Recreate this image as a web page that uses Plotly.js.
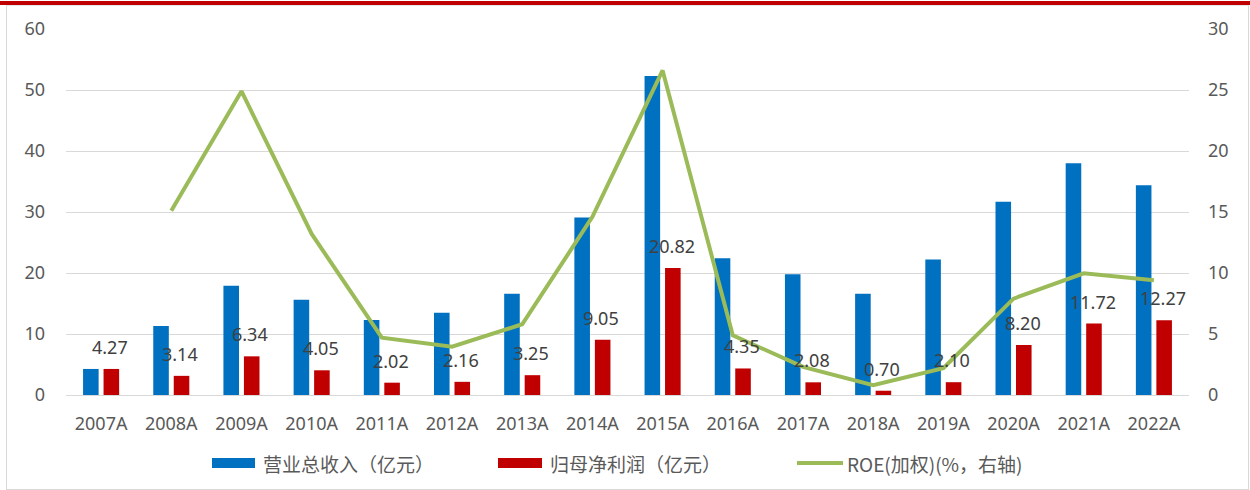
<!DOCTYPE html>
<html>
<head>
<meta charset="utf-8">
<script src="https://cdn.plot.ly/plotly-3.0.1.min.js"></script>
<style>
  html, body { margin: 0; padding: 0; background: #fff; }
  #wrap { position: relative; width: 1250px; height: 490px; }
  #chart { width: 1250px; height: 490px; }
  #topbar { position: absolute; left: 0; top: 1px; width: 1250px; height: 4px; background: #C00000; pointer-events: none; }
  #frame { position: absolute; left: 6px; top: 5px; width: 1241px; height: 483px; border: 1px solid #D9D9D9; border-top-color: #E6E6E6; pointer-events: none; }
</style>
</head>
<body>
<div id="wrap">
  <div id="chart"></div>
  <div id="frame"></div>
  <div id="topbar"></div>
</div>
<script>
const categories = ["2007A","2008A","2009A","2010A","2011A","2012A","2013A","2014A","2015A","2016A","2017A","2018A","2019A","2020A","2021A","2022A"];
const revenue = [4.27, 11.3, 17.9, 15.6, 12.3, 13.5, 16.6, 29.1, 52.3, 22.4, 19.8, 16.6, 22.2, 31.7, 38.0, 34.4];
const netProfit = [4.27, 3.14, 6.34, 4.05, 2.02, 2.16, 3.25, 9.05, 20.82, 4.35, 2.08, 0.70, 2.10, 8.20, 11.72, 12.27];
const roe = [null, 15.1, 24.9, 13.2, 4.7, 3.96, 5.8, 14.6, 26.6, 4.9, 2.3, 0.8, 2.2, 7.9, 9.97, 9.4];
const seriesNames = ["营业总收入（亿元）", "归母净利润（亿元）", "ROE(加权)(%，右轴)"];
const colors = ["#0070C0", "#C00000", "#9BBB59"];

const W = 1250, H = 490;
const M = {l: 66, r: 61, t: 29, b: 95};
const pw = W - M.l - M.r, ph = H - M.t - M.b;
const px = x => (x - M.l) / pw;
const py = y => (H - M.b - y) / ph;

const traces = [
  {type: 'bar', name: seriesNames[0], x: categories, y: revenue, marker: {color: colors[0]}, showlegend: false, hoverinfo: 'x+y'},
  {type: 'bar', name: seriesNames[1], x: categories, y: netProfit, marker: {color: colors[1]}, showlegend: false, hoverinfo: 'x+y'},
  {type: 'scatter', mode: 'lines', name: seriesNames[2], x: categories, y: roe, yaxis: 'y2',
   line: {color: colors[2], width: 4}, connectgaps: false, showlegend: false}
];

const labelFont = {family: 'Noto Sans, sans-serif', size: 18, color: '#404040'};
const annotations = categories.map((c, i) => ({
  x: c, y: netProfit[i], xref: 'x', yref: 'y',
  text: netProfit[i].toFixed(2), showarrow: false,
  xanchor: 'center', yanchor: 'bottom', xshift: 9, yshift: 8,
  font: labelFont
}));

// custom legend
const legendFont = {family: 'Noto Sans CJK SC, sans-serif', size: 19, color: '#595959'};
const legendItems = [
  {x0: 212, x1: 255, tx: 261, kind: 'rect'},
  {x0: 498, x1: 542, tx: 548, kind: 'rect'},
  {x0: 797, x1: 843, tx: 845, kind: 'line'}
];
const legendY = 463;
const shapes = [];
legendItems.forEach((it, i) => {
  if (it.kind === 'rect') {
    shapes.push({type: 'rect', xref: 'paper', yref: 'paper', x0: px(it.x0), x1: px(it.x1),
      y0: py(legendY + 5), y1: py(legendY - 5), fillcolor: colors[i], line: {width: 0}});
  } else {
    shapes.push({type: 'line', xref: 'paper', yref: 'paper', x0: px(it.x0), x1: px(it.x1),
      y0: py(legendY), y1: py(legendY), line: {color: colors[i], width: 4}});
  }
  annotations.push({xref: 'paper', yref: 'paper', x: px(it.tx), y: py(legendY),
    xanchor: 'left', yanchor: 'middle', text: seriesNames[i], showarrow: false, font: legendFont});
});

const tickFont = {family: 'Noto Sans, sans-serif', size: 18, color: '#595959'};
const layout = {
  width: W, height: H,
  margin: M,
  paper_bgcolor: '#fff', plot_bgcolor: '#fff',
  barmode: 'group', bargap: 0.416, bargroupgap: 0.24,
  showlegend: false,
  xaxis: {type: 'category', showgrid: false, zeroline: false, showline: true, linecolor: '#D9D9D9', linewidth: 1,
    ticks: '', tickfont: tickFont, ticklabelstandoff: 12, fixedrange: true},
  yaxis: {range: [0, 60], dtick: 10, showgrid: true, gridcolor: '#D9D9D9', gridwidth: 1, zeroline: false,
    showline: false, ticks: '', tickfont: tickFont, ticklabelstandoff: 20, fixedrange: true},
  yaxis2: {range: [0, 30], dtick: 5, overlaying: 'y', side: 'right', showgrid: false, zeroline: false,
    showline: false, ticks: '', tickfont: tickFont, ticklabelstandoff: 18, fixedrange: true},
  annotations: annotations,
  shapes: shapes
};

Plotly.newPlot('chart', traces, layout, {displayModeBar: false, staticPlot: true});
</script>
</body>
</html>
